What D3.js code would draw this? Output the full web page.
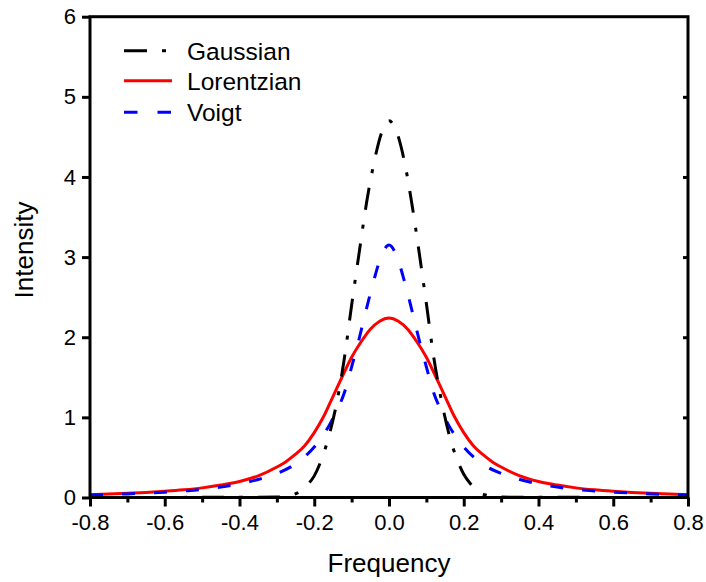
<!DOCTYPE html>
<html>
<head>
<meta charset="utf-8">
<script src="https://cdn.jsdelivr.net/npm/d3@7"></script>
<style>
  body { margin: 0; background: #fff; }
  text { font-family: "Liberation Sans", Arial, sans-serif; }
</style>
</head>
<body>
<script>
// values
let gaussFreq = [-0.8, -0.5, -0.3, -0.28, -0.26, -0.24, -0.22, -0.2, -0.18, -0.16, -0.14, -0.12, -0.1, -0.08, -0.06, -0.04, -0.02,
    0, 0.02, 0.04, 0.06, 0.08, 0.1, 0.12, 0.14, 0.16, 0.18, 0.2, 0.22, 0.24, 0.26, 0.28, 0.3, 0.5, 0.8];
let gaussValues = [0, 0.002, 0.005, 0.012, 0.03, 0.07, 0.15, 0.27, 0.48, 0.78, 1.18, 1.72, 2.4, 3.05, 3.68, 4.18, 4.55,
    4.7, 4.57, 4.22, 3.7, 3.08, 2.42, 1.74, 1.22, 0.8, 0.5, 0.29, 0.16, 0.07, 0.03, 0.012, 0.005, 0.002, 0];

let lorentzFreq = [-0.8, -0.75, -0.7, -0.65, -0.6, -0.55, -0.5, -0.45, -0.4, -0.35, -0.3, -0.275, -0.25, -0.225, -0.2, -0.175,
    -0.15, -0.125, -0.1, -0.075, -0.05, -0.025, 0, 0.025, 0.05, 0.075, 0.1, 0.125, 0.15, 0.175, 0.2, 0.225, 0.25, 0.275,
    0.3, 0.35, 0.4, 0.45, 0.5, 0.55, 0.6, 0.65, 0.7, 0.75, 0.8];
let lorentzValues = [0.035, 0.043, 0.052, 0.063, 0.078, 0.096, 0.12, 0.155, 0.2, 0.27, 0.38, 0.45, 0.54, 0.65, 0.81, 1.01,
    1.26, 1.51, 1.75, 1.94, 2.1, 2.2, 2.24, 2.2, 2.1, 1.94, 1.75, 1.51, 1.26, 1.01, 0.81, 0.65, 0.54, 0.45,
    0.38, 0.27, 0.2, 0.155, 0.12, 0.096, 0.078, 0.063, 0.052, 0.043, 0.035];

let voigtFreq = [-0.8, -0.75, -0.7, -0.65, -0.6, -0.55, -0.5, -0.45, -0.4, -0.35, -0.3, -0.25, -0.2, -0.18, -0.16, -0.14,
    -0.12, -0.1, -0.08, -0.06, -0.04, -0.02, 0, 0.02, 0.04, 0.06, 0.08, 0.1, 0.12, 0.14, 0.16, 0.18, 0.2, 0.25,
    0.3, 0.35, 0.4, 0.45, 0.5, 0.55, 0.6, 0.65, 0.7, 0.75, 0.8];
let voigtValues = [0.031, 0.037, 0.045, 0.055, 0.067, 0.082, 0.1, 0.13, 0.17, 0.225, 0.3, 0.42, 0.63, 0.75, 0.9, 1.08,
    1.3, 1.63, 1.98, 2.36, 2.72, 3.02, 3.15, 3.02, 2.72, 2.36, 1.98, 1.63, 1.3, 1.08, 0.9, 0.75, 0.63, 0.42,
    0.3, 0.225, 0.17, 0.13, 0.1, 0.082, 0.067, 0.055, 0.045, 0.037, 0.031];

let xTicks = [-0.8, -0.6, -0.4, -0.2, 0.0, 0.2, 0.4, 0.6, 0.8];
let xMinorTicks = [-0.7, -0.5, -0.3, -0.1, 0.1, 0.3, 0.5, 0.7];
let yTicks = [0, 1, 2, 3, 4, 5, 6];

let seriesNames = ["Gaussian", "Lorentzian", "Voigt"];
let seriesColors = ["#000000", "#ff0000", "#0000ff"];
let seriesDash = ["22,15,4,15", null, "13,19"];

function main() {

    let svg = d3.select("body").append("svg")
        .attr("width", 706)
        .attr("height", 582);

    let xScale = d3.scaleLinear().domain([-0.8, 0.8]).range([90, 688]);
    let yScale = d3.scaleLinear().domain([0, 6]).range([497.5, 16.7]);

    let series = [
        gaussFreq.map((f, i) => ({ x: f, y: gaussValues[i] })),
        lorentzFreq.map((f, i) => ({ x: f, y: lorentzValues[i] })),
        voigtFreq.map((f, i) => ({ x: f, y: voigtValues[i] }))
    ];

    let line = d3.line()
        .x(d => xScale(d.x))
        .y(d => yScale(d.y))
        .curve(d3.curveMonotoneX);

    // clip curves to the frame
    svg.append("clipPath").attr("id", "plot-clip")
        .append("rect")
        .attr("x", 90).attr("y", 16.7)
        .attr("width", 598).attr("height", 480.8);

    let plot = svg.append("g").attr("clip-path", "url(#plot-clip)");

    // draw order: lorentzian, voigt on top, gaussian on top
    [1, 2, 0].forEach(k => {
        plot.append("path")
            .datum(series[k])
            .attr("d", line)
            .attr("fill", "none")
            .attr("stroke", seriesColors[k])
            .attr("stroke-width", 3)
            .attr("stroke-dasharray", seriesDash[k]);
    });

    // minor x ticks
    svg.append("g")
        .attr("transform", "translate(0,497.5)")
        .call(d3.axisBottom(xScale).tickValues(xMinorTicks).tickSize(5).tickFormat(""))
        .call(g => g.select(".domain").remove())
        .selectAll("line").attr("stroke-width", 3);

    let xAxis = svg.append("g")
        .attr("transform", "translate(0,497.5)")
        .call(d3.axisBottom(xScale).tickValues(xTicks).tickSize(9).tickPadding(8)
            .tickFormat(d => d.toFixed(1)));
    xAxis.select(".domain").remove();
    xAxis.selectAll("line").attr("stroke-width", 3);
    xAxis.selectAll("text").style("font-size", "22px").attr("fill", "#000");

    let yAxis = svg.append("g")
        .attr("transform", "translate(90,0)")
        .call(d3.axisLeft(yScale).tickValues(yTicks).tickSize(8).tickPadding(6).tickFormat(d3.format("d")));
    yAxis.select(".domain").remove();
    yAxis.selectAll("line").attr("stroke-width", 3);
    yAxis.selectAll("text").style("font-size", "22px").attr("fill", "#000");

    // right axis, ticks pointing inward
    svg.append("g")
        .attr("transform", "translate(688,0)")
        .call(d3.axisLeft(yScale).tickValues(yTicks.slice(1, -1)).tickSize(5).tickFormat(""))
        .call(g => g.select(".domain").remove())
        .selectAll("line").attr("stroke-width", 3);

    // frame
    svg.append("rect")
        .attr("x", 90).attr("y", 16.7)
        .attr("width", 598).attr("height", 480.8)
        .attr("fill", "none")
        .attr("stroke", "black")
        .attr("stroke-width", 3)
        .attr("stroke-linejoin", "miter");

    // axis titles
    svg.append("text")
        .attr("x", 389)
        .attr("y", 572)
        .attr("text-anchor", "middle")
        .style("font-size", "26px")
        .text("Frequency");

    svg.append("text")
        .attr("transform", "translate(33, 250) rotate(-90)")
        .attr("text-anchor", "middle")
        .style("font-size", "26px")
        .text("Intensity");

    // legend
    let legendY = [50.7, 80.7, 112.3];
    seriesNames.forEach((name, i) => {
        svg.append("line")
            .attr("x1", 124).attr("x2", 172)
            .attr("y1", legendY[i]).attr("y2", legendY[i])
            .attr("stroke", seriesColors[i])
            .attr("stroke-width", 3)
            .attr("stroke-dasharray", i == 0 ? "23,15,4,15" : (i == 2 ? "13.5,20" : null));

        svg.append("text")
            .attr("x", 187)
            .attr("y", legendY[i] + 9)
            .style("font-size", "24.5px")
            .text(name);
    });
}

main()
</script>
</body>
</html>
